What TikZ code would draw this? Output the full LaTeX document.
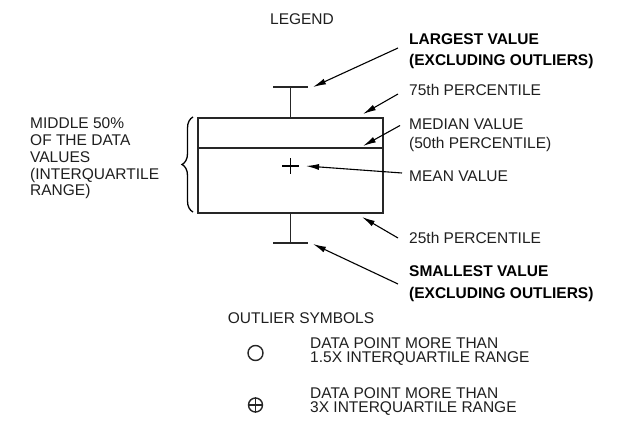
\documentclass[tikz,border=0pt]{standalone}
\usepackage{fontspec}
\setmainfont{Liberation Sans}
\usetikzlibrary{arrows.meta,positioning,decorations.pathreplacing}

\begin{document}
\begin{tikzpicture}[x=1pt, y=-1pt,
  every node/.style={font=\fontsize{15.5}{16.7}\selectfont, text=black!88, inner sep=0pt},
  lbl/.style={anchor=west, align=left},
  boldlbl/.style={lbl, font=\fontsize{15.5}{21}\selectfont\bfseries, text=black},
  plot/.style={draw=black!85, line width=1.5pt},
  pointer/.style={-{Latex[length=13pt,width=6pt]}, line width=1.1pt, draw=black}
]
\useasboundingbox (0,0) rectangle (631,425);

% ---- Titles ----
\node (legend)  at (302,19)  {LEGEND};
\node (outlier) at (301,318) {OUTLIER SYMBOLS};

% ---- Box and whiskers ----
\coordinate (tipmax) at (313,87);   % right of upper cap
\coordinate (tipq3)  at (363,114);  % top edge
\coordinate (tipmed) at (363,146);  % median line
\coordinate (tipavg) at (306,166);  % mean marker
\coordinate (tipq1)  at (362,217);  % bottom edge
\coordinate (tipmin) at (313,244);  % right of lower cap

\draw[plot] (198,118) rectangle (383,213);
\draw[plot] (198,148) -- (383,148);
\draw[plot] (290.5,118) -- (290.5,87) (273,87) -- (308,87);
\draw[plot] (290.5,213) -- (290.5,243) (273,243) -- (308,243);
\draw[line width=1.3pt] (282,166) -- (299,166) (290.5,158) -- (290.5,174);

% ---- Brace and left text ----
\draw[line width=1.3pt, decorate, decoration={brace, amplitude=11pt}]
  (193,212) -- (193,117);
\node[lbl] (middle) at (30,158.5)
  {MIDDLE 50\%\\OF THE DATA\\VALUES\\(INTERQUARTILE\\RANGE)};

% ---- Right labels ----
\node[boldlbl] (largest)  at (409,51.5) {LARGEST VALUE\\(EXCLUDING OUTLIERS)};
\node[lbl]     (q3)       at (409,90)   {75th PERCENTILE};
\node[lbl, font=\fontsize{15.5}{19}\selectfont] (median) at (409,135.5)
  {MEDIAN VALUE\\(50th PERCENTILE)};
\node[lbl]     (mean)     at (409,176)  {MEAN VALUE};
\node[lbl]     (q1)       at (409,238)  {25th PERCENTILE};
\node[boldlbl, font=\fontsize{15.5}{22}\selectfont\bfseries] (smallest) at (409,284)
  {SMALLEST VALUE\\(EXCLUDING OUTLIERS)};

% ---- Arrows ----
\draw[pointer] ([xshift=-11pt,yshift=3.5pt]largest.west) -- (tipmax);
\draw[pointer] ([xshift=-11pt,yshift=-4pt]q3.west) -- (tipq3);
\draw[pointer] ([xshift=-9pt,yshift=10pt]median.west) -- (tipmed);
\draw[pointer] ([xshift=-7pt,yshift=3pt]mean.west) -- (tipavg);
\draw[pointer] ([xshift=-11pt]q1.west) -- (tipq1);
\draw[pointer] ([xshift=-11pt]smallest.west) -- (tipmin);

% ---- Outlier symbols ----
\node[circle, draw=black!85, line width=1.4pt, minimum size=15pt] (mild) at (255.5,353) {};
\node[circle, draw=black!85, line width=1.4pt, minimum size=14pt] (extreme) at (255.5,405) {};
\draw[line width=1.4pt, black!85] (extreme.north) -- (extreme.south) (extreme.west) -- (extreme.east);
\node[lbl, font=\fontsize{15.5}{14}\selectfont] (mildtxt) at (310,352)
  {DATA POINT MORE THAN\\1.5X INTERQUARTILE RANGE};
\node[lbl, font=\fontsize{15.5}{14}\selectfont] (extremetxt) at (310,402)
  {DATA POINT MORE THAN\\3X INTERQUARTILE RANGE};
\end{tikzpicture}
\end{document}
